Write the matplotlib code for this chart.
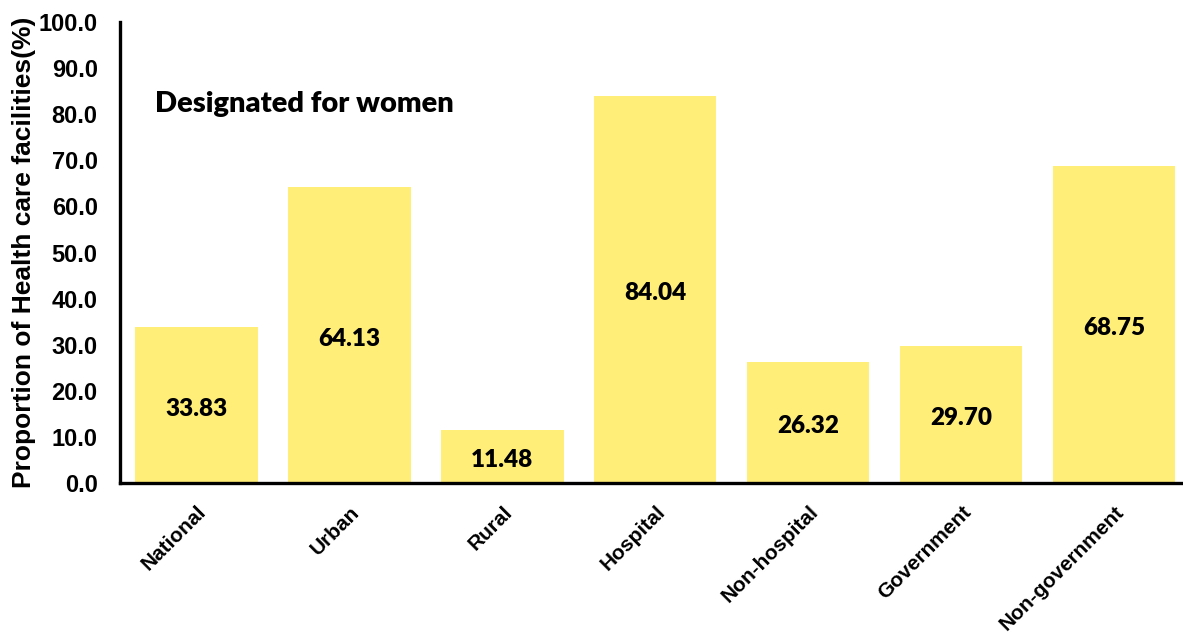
import matplotlib.pyplot as plt
from matplotlib.ticker import FormatStrFormatter

categories = ["National", "Urban", "Rural", "Hospital", "Non-hospital",
              "Government", "Non-government"]
values = [33.83, 64.13, 11.48, 84.04, 26.32, 29.70, 68.75]
yticks = [0, 10, 20, 30, 40, 50, 60, 70, 80, 90, 100]

fig = plt.figure(figsize=(11.83, 6.33), dpi=100)
ax = fig.add_axes([0.1014, 0.237, 0.8986, 0.728])

x = range(len(categories))
bars = ax.bar(x, values, width=0.8, color="#FFEE77")

for xi, v in zip(x, values):
    ax.text(xi, v / 2 - 0.8, f"{v:.2f}", ha="center", va="center",
            fontsize=17.5, fontweight="heavy", family="Lato")

ax.text(-0.27, 82.2, "Designated for women", ha="left", va="center",
        fontsize=21, fontweight="heavy", family="Lato")

ax.set_xlim(-0.5, 6.45)
ax.set_ylim(0, 100)
ax.set_yticks(yticks)
ax.yaxis.set_major_formatter(FormatStrFormatter("%.1f"))
ax.set_xticks(list(x))
ax.set_xticklabels(categories, rotation=45, ha="right", rotation_mode="anchor",
                   fontsize=15, fontweight="bold", family="Liberation Sans")
for lab in ax.get_yticklabels():
    lab.set_fontsize(17)
    lab.set_fontweight("bold")
    lab.set_family("Liberation Sans")
ax.tick_params(axis="y", length=0, pad=16)
ax.tick_params(axis="x", length=0, pad=14)

ax.set_ylabel("Proportion of Health care facilities(%)", fontsize=19,
              fontweight="bold", family="Liberation Sans", labelpad=2)

for s in ["top", "right"]:
    ax.spines[s].set_visible(False)
for s in ["left", "bottom"]:
    ax.spines[s].set_linewidth(2.4)

fig.savefig("out.png", dpi=100)
